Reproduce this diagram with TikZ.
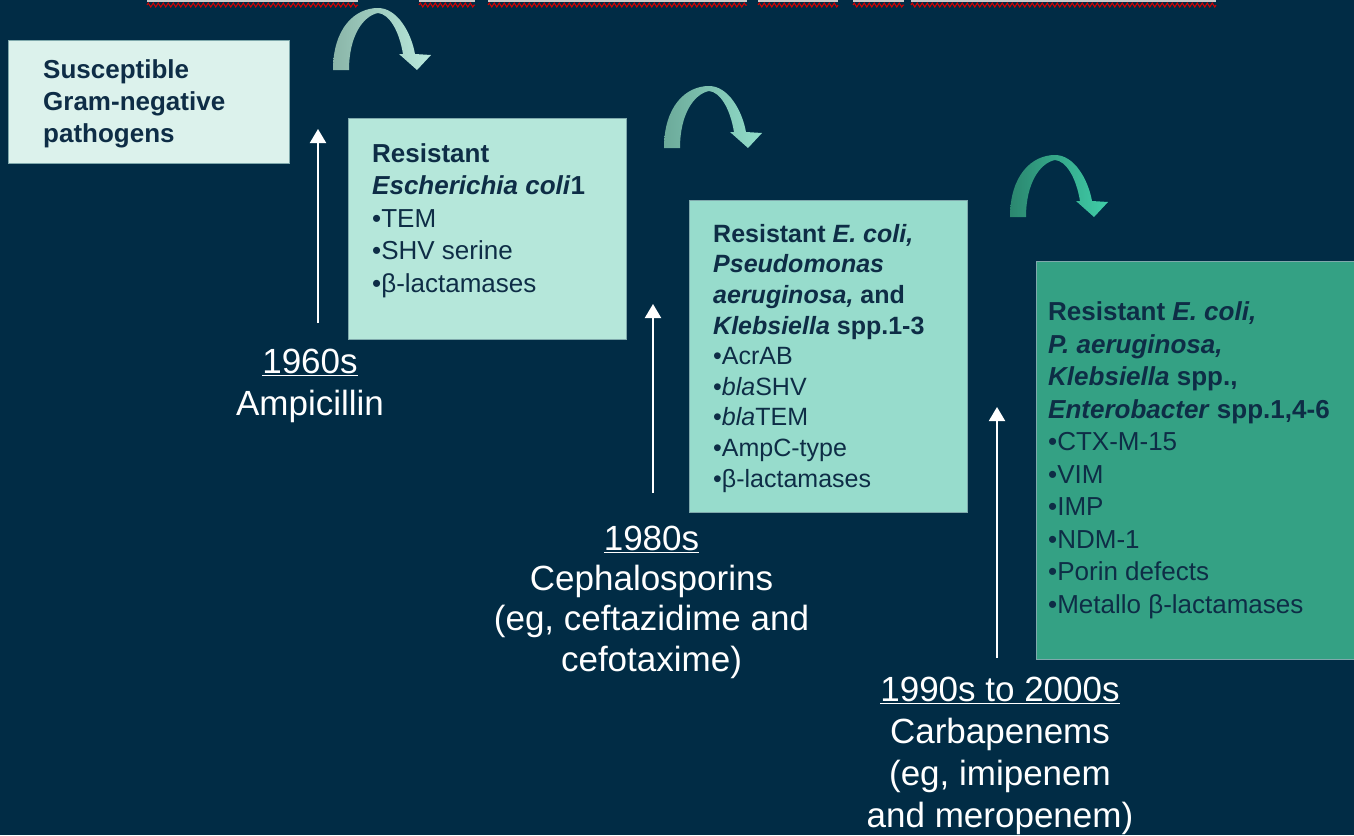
\documentclass[tikz,border=0pt]{standalone}
\usepackage{fontspec}
\setmainfont{Liberation Sans}
\usetikzlibrary{arrows.meta,decorations.pathmorphing}

\definecolor{navy}{HTML}{012C45}
\definecolor{ink}{HTML}{0E2D46}
\definecolor{mintA}{HTML}{DCF2EC}
\definecolor{mintB}{HTML}{B5E7DA}
\definecolor{mintC}{HTML}{97DCCC}
\definecolor{mintD}{HTML}{34A184}
\definecolor{edge}{HTML}{7FA9AC}
\definecolor{bendAl}{HTML}{8AB5A8}\definecolor{bendAr}{HTML}{BAEADD}
\definecolor{bendBl}{HTML}{6CAA9A}\definecolor{bendBr}{HTML}{92DECB}
\definecolor{bendCl}{HTML}{2B876F}\definecolor{bendCr}{HTML}{40CDA8}

\tikzset{
  box/.style={draw=edge,line width=1.2pt,fill=#1,anchor=north west,inner sep=0pt},
  boxtext/.style={text=ink,align=left,anchor=base west,inner sep=0pt},
  era/.style={text=white,align=center,anchor=base,inner sep=0pt,
    font={\fontsize{35}{41.7}\selectfont}},
  rise/.style={white,line width=2pt,-{Triangle[length=14pt,width=16pt]}}
}
% bent block arrow, local units in px
\newcommand\bendarrow[3]{%
  \shade[left color=#2,right color=#3,shift={#1}]
    (0,0) .. controls (0,-42) and (22,-62) .. (45,-62)
    .. controls (64,-62) and (78,-38) .. (82,-16) -- (98,-15) -- (84,0)
    -- (66,-16) -- (70,-16) .. controls (66,-40) and (56,-56) .. (45,-57)
    .. controls (30,-54) and (16,-34) .. (16,0) -- cycle;}

\begin{document}
\begin{tikzpicture}[x=1pt,y=-1pt]
\useasboundingbox (0,0) rectangle (1354,835);
\fill[navy] (0,0) rectangle (1354,835);

% cut-off title
\foreach \a/\b in {147/358,419/475,488/747,758/838,853/904,911/1216}{
  \fill[gray!40] (\a,0) rectangle (\b,2);
  \draw[red!85!black,line width=1pt,decorate,
    decoration={zigzag,segment length=5pt,amplitude=2pt}] (\a,5) -- (\b,5);
}

% boxes
\node[box=mintA,minimum width=281pt,minimum height=123pt] (b1) at (8,40) {};
\node[box=mintB,minimum width=278pt,minimum height=221pt] (b2) at (348,118) {};
\node[box=mintC,minimum width=278pt,minimum height=312pt] (b3) at (689,200) {};
\node[box=mintD,minimum width=330pt,minimum height=398pt] (b4) at (1036,261) {};

% text blocks sit on their last baseline
\node[boxtext,font={\fontsize{26}{32}\selectfont\bfseries}] (t1) at (43,142)
  {Susceptible\\Gram-negative\\pathogens};
\node[boxtext,font={\fontsize{26}{32.5}\selectfont}] (t2) at (372,292)
  {\textbf{Resistant}\\\textbf{\textit{Escherichia coli}1}\\•TEM\\•SHV serine\\•β-lactamases};
\node[boxtext,font={\fontsize{25}{30.6}\selectfont}] (t3) at (713,487)
  {\textbf{Resistant \textit{E. coli,}}\\\textbf{\textit{Pseudomonas}}\\
   \textbf{\textit{aeruginosa,} and}\\\textbf{\textit{Klebsiella} spp.1-3}\\
   •AcrAB\\•\textit{bla}SHV\\•\textit{bla}TEM\\•AmpC-type\\•β-lactamases};
\node[boxtext,font={\fontsize{26}{32.5}\selectfont}] (t4) at (1048,613)
  {\textbf{Resistant \textit{E. coli,}}\\\textbf{\textit{P. aeruginosa,}}\\
   \textbf{\textit{Klebsiella} spp.,}\\\textbf{\textit{Enterobacter} spp.1,4-6}\\
   •CTX-M-15\\•VIM\\•IMP\\•NDM-1\\•Porin defects\\•Metallo β-lactamases};

% eras
\node[era,font={\fontsize{35}{42}\selectfont}] (e1) at (310,415)
  {\underline{1960s}\\Ampicillin};
\node[era,font={\fontsize{35}{40.3}\selectfont}] (e2) at (651.5,671)
  {\underline{1980s}\\Cephalosporins\\(eg, ceftazidime and\\cefotaxime)};
\node[era] (e3) at (1000,827)
  {\underline{1990s to 2000s}\\Carbapenems\\(eg, imipenem\\and meropenem)};

\coordinate (a1) at (318,323);  \coordinate (h1) at (318,129);
\coordinate (a2) at (653,493);  \coordinate (h2) at (653,304);
\coordinate (a3) at (997,658);  \coordinate (h3) at (997,407);
\draw[rise] (a1) -- (h1);
\draw[rise] (a2) -- (h2);
\draw[rise] (a3) -- (h3);

\bendarrow{(333,70)}{bendAl}{bendAr}
\bendarrow{(664,148)}{bendBl}{bendBr}
\bendarrow{(1010,217)}{bendCl}{bendCr}
\end{tikzpicture}
\end{document}
